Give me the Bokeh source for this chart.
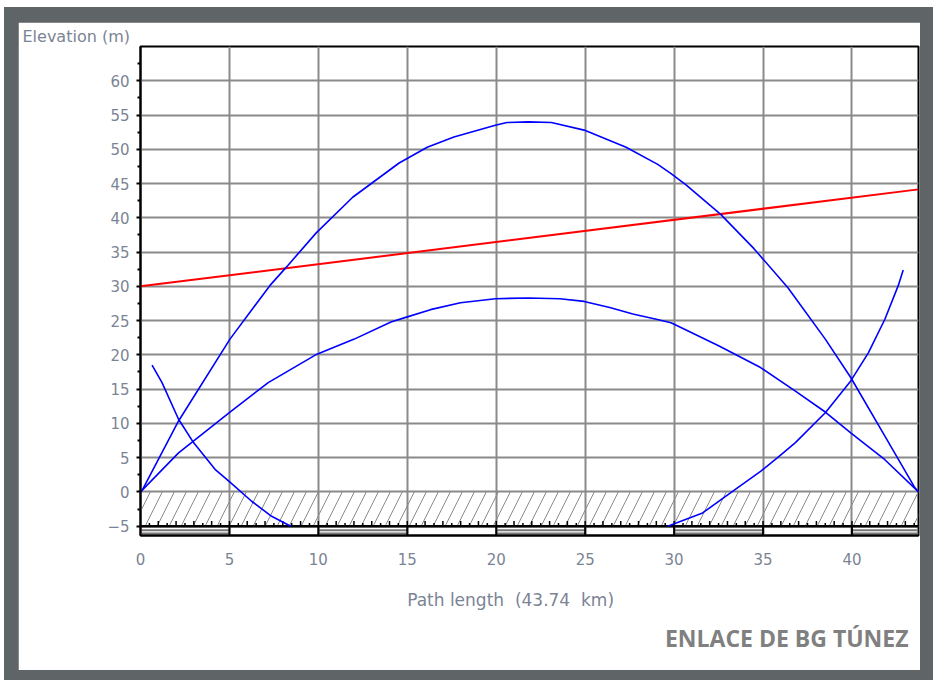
from bokeh.plotting import figure
from bokeh.models import Range1d, FixedTicker, Title
from bokeh.layouts import column
from bokeh.embed import file_html
from bokeh.resources import INLINE

# ---------------- data ----------------
path_length_km = 43.74
x_ticks = [0, 5, 10, 15, 20, 25, 30, 35, 40]
y_ticks = [-5, 0, 5, 10, 15, 20, 25, 30, 35, 40, 45, 50, 55, 60]
y_minor = [-2.5, 2.5, 7.5, 12.5, 17.5, 22.5, 27.5, 32.5, 37.5, 42.5, 47.5, 52.5, 57.5, 62.5]

# line of sight (red)
los_x = [0, 43.74]
los_y = [30.0, 44.15]

# outer arc
outer_x = [0, 0.1, 2.14, 5.03, 7.27, 8.2, 9.88, 11.93, 14.54, 16.12, 17.62, 19.95, 20.6, 21.8,
           23.1, 24.94, 27.3, 29.08, 29.83, 30.67, 32.62, 34.49, 36.4, 38.5, 39.93, 41.85, 43.54, 43.74]
outer_y = [0, 0.25, 10.35, 22.3, 30.1, 32.8, 37.8, 43.0, 48.0, 50.3, 51.8, 53.5, 53.9, 54.0,
           53.9, 52.8, 50.3, 47.8, 46.45, 44.8, 40.5, 35.5, 29.8, 22.3, 16.7, 8.15, 0.6, 0]

# inner arc
inner_x = [0, 2.14, 5.03, 7.18, 9.92, 12.02, 14.08, 14.82, 16.3, 17.99, 19.95, 21.8, 23.58, 24.94, 26.38,
           27.68, 29.0, 29.83, 32.53, 34.86, 36.82, 38.5, 39.93, 41.85, 43.74]
inner_y = [0, 5.7, 11.66, 15.95, 20.1, 22.3, 24.8, 25.4, 26.6, 27.6, 28.2, 28.3, 28.2, 27.8, 26.9,
           25.96, 25.2, 24.7, 21.3, 18.15, 14.7, 11.66, 8.6, 4.7, 0]

# descending curve (left)
left_x = [0.65, 1.21, 2.14, 2.98, 4.19, 5.03, 6.25, 7.37, 8.45]
left_y = [18.5, 15.95, 10.6, 7.2, 3.3, 1.42, -1.36, -3.56, -5.0]

# rising curve (right)
right_x = [29.64, 31.6, 33.56, 34.86, 35.8, 36.82, 38.5, 39.93, 40.92, 41.85, 42.6, 42.88]
right_y = [-5.0, -3.07, 0.6, 3.0, 4.98, 7.2, 11.56, 16.2, 20.3, 25.2, 30.1, 32.4]

ground_top = 0
ground_bottom = -5
y_min = -6.36
y_max = 65

# ---------------- figure ----------------
label_color = "#7b8494"
p = figure(width=902, height=648,
           x_range=Range1d(0, path_length_km), y_range=Range1d(y_min, y_max),
           output_backend="svg", toolbar_location=None,
           min_border_left=122, min_border_right=2, min_border_top=24, min_border_bottom=135)
p.background_fill_color = "white"
p.border_fill_color = "white"
p.outline_line_color = "black"
p.outline_line_width = 2

# title-like label "Elevation (m)"
p.title.text = "Elevation (m)"
p.title.align = "left"
p.title.offset = -118
p.title.standoff = 1
p.title.text_font = "DejaVu Sans"
p.title.text_font_size = "16px"
p.title.text_font_style = "normal"
p.title.text_color = label_color

# grids
p.xgrid.ticker = FixedTicker(ticks=x_ticks)
p.ygrid.ticker = FixedTicker(ticks=y_ticks)
for g in (p.xgrid, p.ygrid):
    g.grid_line_color = "#8a8a8a"
    g.grid_line_width = 2

# axes
p.xaxis.ticker = FixedTicker(ticks=x_ticks)
p.yaxis.ticker = FixedTicker(ticks=y_ticks, minor_ticks=y_minor)
p.xaxis.axis_label = "Path length\u00a0 (43.74\u00a0 km)" + "\u00a0" * 7
for ax in (p.xaxis, p.yaxis):
    ax.axis_line_color = "black"
    ax.axis_line_width = 2
    ax.major_label_text_font = "DejaVu Sans"
    ax.major_label_text_font_size = "15px"
    ax.major_label_text_color = label_color
p.xaxis.major_tick_out = 0
p.xaxis.major_tick_in = 0
p.xaxis.minor_tick_out = 0
p.xaxis.minor_tick_in = 0
p.xaxis.major_label_standoff = 17
p.xaxis.axis_label_standoff = 22
p.xaxis.axis_label_text_font = "DejaVu Sans"
p.xaxis.axis_label_text_font_size = "17px"
p.xaxis.axis_label_text_font_style = "normal"
p.xaxis.axis_label_text_color = label_color
p.yaxis.major_tick_out = 4
p.yaxis.major_tick_in = 0
p.yaxis.minor_tick_out = 3
p.yaxis.minor_tick_in = 0
p.yaxis.major_tick_line_width = 2
p.yaxis.minor_tick_line_width = 2
p.yaxis.major_label_standoff = 7

# caption at bottom right
p.add_layout(Title(text="ENLACE DE BG TÚNEZ", align="right", offset=10, standoff=15,
                   text_font="Open Sans", text_font_size="23px", text_font_style="bold",
                   text_color="#808080"), "below")

# ground hatch band
p.quad(left=0, right=path_length_km, bottom=ground_bottom, top=ground_top,
       fill_alpha=0, line_alpha=0, hatch_pattern="/", hatch_color="#8a8a8a",
       hatch_weight=1, hatch_scale=24)

# scale band below ground
seg_starts = x_ticks[0::2]
seg_ends = [min(s + 5, path_length_km) for s in seg_starts]
for yy in (-5.6, -6.05):
    p.segment(x0=seg_starts, y0=[yy] * len(seg_starts), x1=seg_ends, y1=[yy] * len(seg_starts),
              line_color="#777777", line_width=2)
p.segment(x0=x_ticks[1:], y0=[y_min] * (len(x_ticks) - 1), x1=x_ticks[1:], y1=[ground_bottom] * (len(x_ticks) - 1),
          line_color="black", line_width=2)
p.segment(x0=[0], y0=[ground_bottom], x1=[path_length_km], y1=[ground_bottom], line_color="black", line_width=2.5)
# small ruler ticks
rx = [i * 0.5 for i in range(1, int(path_length_km / 0.5) + 1)]
rh = [0.75 if (i % 2 == 0) else 0.45 for i in range(1, len(rx) + 1)]
p.segment(x0=rx, y0=[ground_bottom] * len(rx), x1=rx, y1=[ground_bottom + h for h in rh],
          line_color="black", line_width=1.5)

# curves
p.line(los_x, los_y, line_color="#ff0000", line_width=2)
p.line(outer_x, outer_y, line_color="#0000ff", line_width=1.6)
p.line(inner_x, inner_y, line_color="#0000ff", line_width=1.6)
p.line(left_x, left_y, line_color="#0000ff", line_width=1.6)
p.line(right_x, right_y, line_color="#0000ff", line_width=1.6)

layout = column(p, styles={"background-color": "#5f6466", "margin": "7px 0px 0px 4px",
                           "padding": "15px 13px 10px 14px"})

open("out.html", "w").write(file_html(layout, INLINE))
